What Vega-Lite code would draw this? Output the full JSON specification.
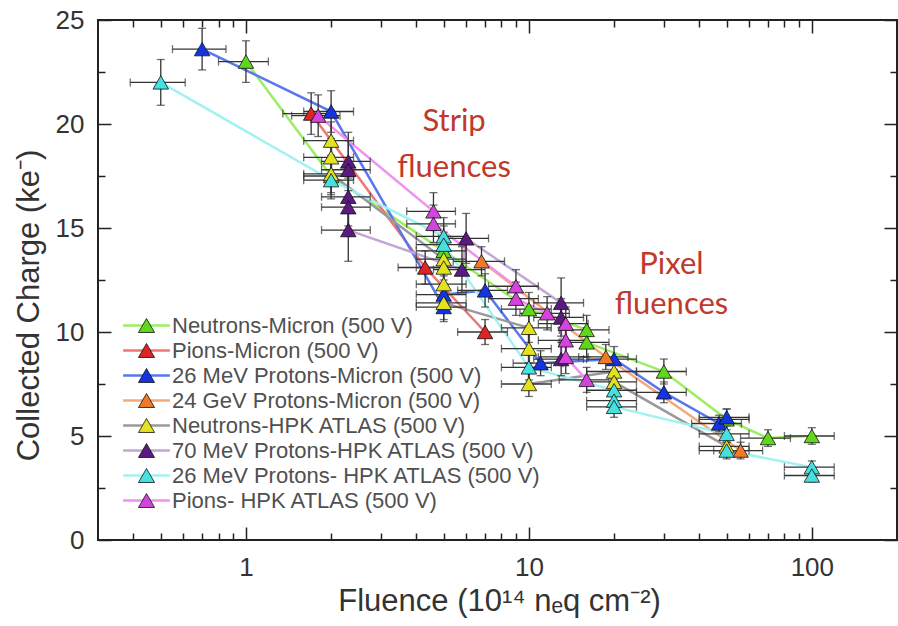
{
  "$schema": "https://vega.github.io/schema/vega-lite/v6.json",
  "width": 799,
  "height": 520,
  "autosize": "none",
  "padding": {"left": 98, "top": 20, "right": 1, "bottom": 86},
  "background": "white",
  "config": {
    "view": {"stroke": "#222", "strokeWidth": 2},
    "font": "Liberation Sans",
    "axis": {"domain": false, "grid": false, "tickColor": "#222", "tickWidth": 1.5}
  },
  "datasets": {
    "pts": [
      {"s": "Neutrons-Micron (500 V)", "x": 1, "y": 23.0, "xl": 0.8, "xh": 1.2, "yl": 22.0, "yh": 24.0},
      {"s": "Neutrons-Micron (500 V)", "x": 2, "y": 17.5, "xl": 1.6, "xh": 2.4, "yl": 16.6, "yh": 18.4},
      {"s": "Neutrons-Micron (500 V)", "x": 5, "y": 13.9, "xl": 4, "xh": 6, "yl": 13.0, "yh": 14.8},
      {"s": "Neutrons-Micron (500 V)", "x": 10, "y": 11.1, "xl": 8, "xh": 12, "yl": 10.3, "yh": 11.9},
      {"s": "Neutrons-Micron (500 V)", "x": 16, "y": 10.1, "xl": 12.8, "xh": 19.2, "yl": 9.4, "yh": 10.8},
      {"s": "Neutrons-Micron (500 V)", "x": 16, "y": 9.5, "xl": 12.8, "xh": 19.2, "yl": 8.8, "yh": 10.2},
      {"s": "Neutrons-Micron (500 V)", "x": 30, "y": 8.1, "xl": 24, "xh": 36, "yl": 7.5, "yh": 8.7},
      {"s": "Neutrons-Micron (500 V)", "x": 50, "y": 5.8, "xl": 40, "xh": 60, "yl": 5.3, "yh": 6.3},
      {"s": "Neutrons-Micron (500 V)", "x": 70, "y": 4.9, "xl": 56, "xh": 84, "yl": 4.5, "yh": 5.3},
      {"s": "Neutrons-Micron (500 V)", "x": 100, "y": 5.0, "xl": 80, "xh": 120, "yl": 4.6, "yh": 5.4},
      {"s": "Pions-Micron (500 V)", "x": 1.7, "y": 20.5, "xl": 1.35, "xh": 2.05, "yl": 19.5, "yh": 21.5},
      {"s": "Pions-Micron (500 V)", "x": 4.3, "y": 13.1, "xl": 3.45, "xh": 5.15, "yl": 12.3, "yh": 13.9},
      {"s": "Pions-Micron (500 V)", "x": 7.0, "y": 10.0, "xl": 5.6, "xh": 8.4, "yl": 9.4, "yh": 10.6},
      {"s": "26 MeV Protons-Micron (500 V)", "x": 0.7, "y": 23.6, "xl": 0.55, "xh": 0.85, "yl": 22.6, "yh": 24.6},
      {"s": "26 MeV Protons-Micron (500 V)", "x": 2.0, "y": 20.6, "xl": 1.6, "xh": 2.4, "yl": 19.6, "yh": 21.6},
      {"s": "26 MeV Protons-Micron (500 V)", "x": 5.0, "y": 11.2, "xl": 4, "xh": 6, "yl": 10.5, "yh": 11.9},
      {"s": "26 MeV Protons-Micron (500 V)", "x": 5.0, "y": 11.8, "xl": 4, "xh": 6, "yl": 11.1, "yh": 12.5},
      {"s": "26 MeV Protons-Micron (500 V)", "x": 7.0, "y": 12.0, "xl": 5.6, "xh": 8.4, "yl": 11.2, "yh": 12.8},
      {"s": "26 MeV Protons-Micron (500 V)", "x": 11, "y": 8.5, "xl": 8.8, "xh": 13.2, "yl": 7.9, "yh": 9.1},
      {"s": "26 MeV Protons-Micron (500 V)", "x": 20, "y": 8.7, "xl": 16, "xh": 24, "yl": 8.1, "yh": 9.3},
      {"s": "26 MeV Protons-Micron (500 V)", "x": 30, "y": 7.1, "xl": 24, "xh": 36, "yl": 6.6, "yh": 7.6},
      {"s": "26 MeV Protons-Micron (500 V)", "x": 47, "y": 5.6, "xl": 37.6, "xh": 56.4, "yl": 5.2, "yh": 6.0},
      {"s": "26 MeV Protons-Micron (500 V)", "x": 50, "y": 5.9, "xl": 40, "xh": 60, "yl": 5.5, "yh": 6.3},
      {"s": "24 GeV Protons-Micron (500 V)", "x": 6.8, "y": 13.4, "xl": 5.4, "xh": 8.2, "yl": 12.7, "yh": 14.1},
      {"s": "24 GeV Protons-Micron (500 V)", "x": 18.7, "y": 8.8, "xl": 15, "xh": 22.4, "yl": 8.2, "yh": 9.4},
      {"s": "24 GeV Protons-Micron (500 V)", "x": 56, "y": 4.3, "xl": 45, "xh": 67, "yl": 3.9, "yh": 4.7},
      {"s": "Neutrons-HPK ATLAS (500 V)", "x": 2, "y": 19.2, "xl": 1.6, "xh": 2.4, "yl": 18.3, "yh": 20.1},
      {"s": "Neutrons-HPK ATLAS (500 V)", "x": 2, "y": 18.4, "xl": 1.6, "xh": 2.4, "yl": 17.5, "yh": 19.3},
      {"s": "Neutrons-HPK ATLAS (500 V)", "x": 2, "y": 17.6, "xl": 1.6, "xh": 2.4, "yl": 16.7, "yh": 18.5},
      {"s": "Neutrons-HPK ATLAS (500 V)", "x": 5, "y": 13.5, "xl": 4, "xh": 6, "yl": 12.7, "yh": 14.3},
      {"s": "Neutrons-HPK ATLAS (500 V)", "x": 5, "y": 13.1, "xl": 4, "xh": 6, "yl": 12.3, "yh": 13.9},
      {"s": "Neutrons-HPK ATLAS (500 V)", "x": 5, "y": 12.3, "xl": 4, "xh": 6, "yl": 11.5, "yh": 13.1},
      {"s": "Neutrons-HPK ATLAS (500 V)", "x": 5, "y": 11.4, "xl": 4, "xh": 6, "yl": 10.6, "yh": 12.2},
      {"s": "Neutrons-HPK ATLAS (500 V)", "x": 10, "y": 10.2, "xl": 8, "xh": 12, "yl": 9.5, "yh": 10.9},
      {"s": "Neutrons-HPK ATLAS (500 V)", "x": 10, "y": 9.2, "xl": 8, "xh": 12, "yl": 8.5, "yh": 9.9},
      {"s": "Neutrons-HPK ATLAS (500 V)", "x": 10, "y": 7.5, "xl": 8, "xh": 12, "yl": 6.9, "yh": 8.1},
      {"s": "Neutrons-HPK ATLAS (500 V)", "x": 20, "y": 8.1, "xl": 16, "xh": 24, "yl": 7.5, "yh": 8.7},
      {"s": "Neutrons-HPK ATLAS (500 V)", "x": 20, "y": 7.6, "xl": 16, "xh": 24, "yl": 7.0, "yh": 8.2},
      {"s": "Neutrons-HPK ATLAS (500 V)", "x": 50, "y": 4.5, "xl": 40, "xh": 60, "yl": 4.1, "yh": 4.9},
      {"s": "70 MeV Protons-HPK ATLAS (500 V)", "x": 2.3, "y": 18.2, "xl": 1.85, "xh": 2.75, "yl": 16.8, "yh": 19.6},
      {"s": "70 MeV Protons-HPK ATLAS (500 V)", "x": 2.3, "y": 17.8, "xl": 1.85, "xh": 2.75, "yl": 16.4, "yh": 19.2},
      {"s": "70 MeV Protons-HPK ATLAS (500 V)", "x": 2.3, "y": 16.5, "xl": 1.85, "xh": 2.75, "yl": 15.1, "yh": 17.9},
      {"s": "70 MeV Protons-HPK ATLAS (500 V)", "x": 2.3, "y": 16.0, "xl": 1.85, "xh": 2.75, "yl": 14.6, "yh": 17.4},
      {"s": "70 MeV Protons-HPK ATLAS (500 V)", "x": 2.3, "y": 14.9, "xl": 1.85, "xh": 2.75, "yl": 13.4, "yh": 16.4},
      {"s": "70 MeV Protons-HPK ATLAS (500 V)", "x": 6.0, "y": 14.5, "xl": 4.8, "xh": 7.2, "yl": 13.3, "yh": 15.7},
      {"s": "70 MeV Protons-HPK ATLAS (500 V)", "x": 5.8, "y": 13.0, "xl": 4.6, "xh": 7.0, "yl": 11.9, "yh": 14.1},
      {"s": "70 MeV Protons-HPK ATLAS (500 V)", "x": 13, "y": 11.4, "xl": 10.4, "xh": 15.6, "yl": 10.2, "yh": 12.6},
      {"s": "70 MeV Protons-HPK ATLAS (500 V)", "x": 13, "y": 10.7, "xl": 10.4, "xh": 15.6, "yl": 9.8, "yh": 11.6},
      {"s": "70 MeV Protons-HPK ATLAS (500 V)", "x": 13, "y": 8.7, "xl": 10.4, "xh": 15.6, "yl": 7.9, "yh": 9.5},
      {"s": "26 MeV Protons- HPK ATLAS (500 V)", "x": 0.5, "y": 22.0, "xl": 0.39, "xh": 0.61, "yl": 20.9, "yh": 23.1},
      {"s": "26 MeV Protons- HPK ATLAS (500 V)", "x": 2.0, "y": 17.3, "xl": 1.6, "xh": 2.4, "yl": 16.4, "yh": 18.2},
      {"s": "26 MeV Protons- HPK ATLAS (500 V)", "x": 5.0, "y": 14.6, "xl": 4, "xh": 6, "yl": 13.7, "yh": 15.5},
      {"s": "26 MeV Protons- HPK ATLAS (500 V)", "x": 5.0, "y": 14.2, "xl": 4, "xh": 6, "yl": 13.3, "yh": 15.1},
      {"s": "26 MeV Protons- HPK ATLAS (500 V)", "x": 10, "y": 8.3, "xl": 8, "xh": 12, "yl": 7.7, "yh": 8.9},
      {"s": "26 MeV Protons- HPK ATLAS (500 V)", "x": 20, "y": 7.2, "xl": 16, "xh": 24, "yl": 6.7, "yh": 7.7},
      {"s": "26 MeV Protons- HPK ATLAS (500 V)", "x": 20, "y": 6.7, "xl": 16, "xh": 24, "yl": 6.2, "yh": 7.2},
      {"s": "26 MeV Protons- HPK ATLAS (500 V)", "x": 20, "y": 6.4, "xl": 16, "xh": 24, "yl": 5.9, "yh": 6.9},
      {"s": "26 MeV Protons- HPK ATLAS (500 V)", "x": 50, "y": 5.1, "xl": 40, "xh": 60, "yl": 4.7, "yh": 5.5},
      {"s": "26 MeV Protons- HPK ATLAS (500 V)", "x": 50, "y": 4.3, "xl": 40, "xh": 60, "yl": 3.9, "yh": 4.7},
      {"s": "26 MeV Protons- HPK ATLAS (500 V)", "x": 100, "y": 3.5, "xl": 80, "xh": 120, "yl": 3.2, "yh": 3.8},
      {"s": "26 MeV Protons- HPK ATLAS (500 V)", "x": 100, "y": 3.1, "xl": 80, "xh": 120, "yl": 2.8, "yh": 3.4},
      {"s": "Pions- HPK ATLAS (500 V)", "x": 1.8, "y": 20.4, "xl": 1.45, "xh": 2.15, "yl": 19.4, "yh": 21.4},
      {"s": "Pions- HPK ATLAS (500 V)", "x": 4.6, "y": 15.8, "xl": 3.7, "xh": 5.5, "yl": 14.9, "yh": 16.7},
      {"s": "Pions- HPK ATLAS (500 V)", "x": 4.6, "y": 15.2, "xl": 3.7, "xh": 5.5, "yl": 14.3, "yh": 16.1},
      {"s": "Pions- HPK ATLAS (500 V)", "x": 9.0, "y": 12.2, "xl": 7.2, "xh": 10.8, "yl": 11.4, "yh": 13.0},
      {"s": "Pions- HPK ATLAS (500 V)", "x": 9.0, "y": 11.6, "xl": 7.2, "xh": 10.8, "yl": 10.8, "yh": 12.4},
      {"s": "Pions- HPK ATLAS (500 V)", "x": 11.6, "y": 10.9, "xl": 9.3, "xh": 13.9, "yl": 10.1, "yh": 11.7},
      {"s": "Pions- HPK ATLAS (500 V)", "x": 13.5, "y": 10.4, "xl": 10.8, "xh": 16.2, "yl": 9.6, "yh": 11.2},
      {"s": "Pions- HPK ATLAS (500 V)", "x": 13.5, "y": 9.6, "xl": 10.8, "xh": 16.2, "yl": 8.8, "yh": 10.4},
      {"s": "Pions- HPK ATLAS (500 V)", "x": 13.5, "y": 8.8, "xl": 10.8, "xh": 16.2, "yl": 8.0, "yh": 9.6},
      {"s": "Pions- HPK ATLAS (500 V)", "x": 16, "y": 7.7, "xl": 12.8, "xh": 19.2, "yl": 7.1, "yh": 8.3}
    ],
    "notes": [
      {"x": 5.44, "y": 20.1, "t": "Strip"},
      {"x": 5.44, "y": 17.9, "t": "fluences"},
      {"x": 31.9, "y": 13.2, "t": "Pixel"},
      {"x": 31.9, "y": 11.3, "t": "fluences"}
    ]
  },
  "data": {"name": "pts"},
  "resolve": {"axis": {"x": "independent", "y": "independent"}},
  "layer": [
    {
      "mark": {"type": "line", "strokeWidth": 2.5},
      "encoding": {
        "x": {"field": "x", "type": "quantitative", "scale": {"type": "log", "domain": [0.3, 200], "nice": false},
          "axis": {"orient": "bottom", "values": [1, 10, 100], "format": "d", "tickSize": -13, "labelFontSize": 26, "labelColor": "#333", "labelPadding": 27, "labelFlush": false, "labelOverlap": false,
            "title": "Fluence (10¹⁴ nₑq cm⁻²)", "titleFontSize": 31, "titleFontWeight": "normal", "titleColor": "#333", "titleX": 401, "titleY": 70, "titleBaseline": "alphabetic", "titleAlign": "center"}},
        "y": {"field": "y", "type": "quantitative", "scale": {"domain": [0, 25], "nice": false},
          "axis": {"orient": "left", "values": [0, 5, 10, 15, 20, 25], "tickSize": -13, "labelFontSize": 26, "labelColor": "#333", "labelPadding": 27, "labelFlush": false, "labelOverlap": false,
            "title": "Collected Charge (ke⁻)", "titleFontSize": 31, "titleFontWeight": "normal", "titleColor": "#333", "titleX": -60, "titleY": 285, "titleAngle": -90, "titleBaseline": "alphabetic", "titleAlign": "center"}},
        "stroke": {"field": "s", "type": "nominal",
          "sort": ["Neutrons-Micron (500 V)", "Pions-Micron (500 V)", "26 MeV Protons-Micron (500 V)", "24 GeV Protons-Micron (500 V)", "Neutrons-HPK ATLAS (500 V)", "70 MeV Protons-HPK ATLAS (500 V)", "26 MeV Protons- HPK ATLAS (500 V)", "Pions- HPK ATLAS (500 V)"],
          "scale": {"range": ["#9cee62", "#f07575", "#5a78ee", "#f7a878", "#9a9a9a", "#c2a6d4", "#a2f2f2", "#f092f0"]},
          "legend": {"orient": "none", "legendX": 37.5, "legendY": 294.5, "title": null, "symbolType": "M-2.9,0H2.9", "symbolSize": 260, "symbolStrokeWidth": 2.5, "labelFontSize": 22, "labelOpacity": 0, "labelOffset": 14.5, "labelLimit": 500, "rowPadding": 3, "padding": 0, "zindex": 1}}
      }
    },
    {
      "mark": {"type": "errorbar", "color": "#333", "thickness": 1.3, "ticks": {"size": 8, "color": "#333"}},
      "encoding": {
        "x": {"field": "x", "type": "quantitative", "axis": null},
        "y": {"field": "yl", "type": "quantitative", "axis": null},
        "y2": {"field": "yh"}
      }
    },
    {
      "mark": {"type": "errorbar", "color": "#333", "thickness": 1.3, "ticks": {"size": 8, "color": "#333"}},
      "encoding": {
        "y": {"field": "y", "type": "quantitative", "axis": null},
        "x": {"field": "xl", "type": "quantitative", "axis": null},
        "x2": {"field": "xh"}
      }
    },
    {
      "mark": {"type": "point", "shape": "triangle-up", "filled": true, "size": 240, "stroke": "#111", "strokeWidth": 0.8, "opacity": 1},
      "encoding": {
        "x": {"field": "x", "type": "quantitative", "axis": null},
        "y": {"field": "y", "type": "quantitative", "axis": null},
        "fill": {"field": "s", "type": "nominal",
          "scale": {"domain": ["Neutrons-Micron (500 V)", "Pions-Micron (500 V)", "26 MeV Protons-Micron (500 V)", "24 GeV Protons-Micron (500 V)", "Neutrons-HPK ATLAS (500 V)", "70 MeV Protons-HPK ATLAS (500 V)", "26 MeV Protons- HPK ATLAS (500 V)", "Pions- HPK ATLAS (500 V)"],
            "range": ["#5fd81c", "#e02424", "#1434e0", "#f07a26", "#e2e222", "#5a1a82", "#46e0e0", "#d444dc"]},
          "legend": {"orient": "none", "legendX": 37.5, "legendY": 294.5, "title": null, "symbolType": "triangle-up", "symbolSize": 260, "symbolStrokeColor": "#111", "symbolStrokeWidth": 0.8, "labelFontSize": 22, "labelColor": "#505050", "labelOffset": 14.5, "labelLimit": 500, "rowPadding": 3, "padding": 0, "zindex": 2}}
      }
    },
    {
      "data": {"name": "notes"},
      "mark": {"type": "text", "font": "Lato", "fontSize": 31, "color": "#c0392b", "align": "center", "baseline": "middle"},
      "encoding": {
        "x": {"field": "x", "type": "quantitative", "axis": null},
        "y": {"field": "y", "type": "quantitative", "axis": null},
        "text": {"field": "t"}
      }
    },
    {
      "mark": {"type": "point", "opacity": 0},
      "encoding": {
        "x": {"field": "x", "type": "quantitative", "axis": {"orient": "bottom", "values": [0.4, 0.5, 0.6, 0.7, 0.8, 0.9, 2, 3, 4, 5, 6, 7, 8, 9, 20, 30, 40, 50, 60, 70, 80, 90], "tickSize": -7, "labels": false, "title": null}},
        "y": {"field": "y", "type": "quantitative", "axis": {"orient": "left", "values": [2.5, 7.5, 12.5, 17.5, 22.5], "tickSize": -7, "labels": false, "title": null}}
      }
    },
    {
      "mark": {"type": "point", "opacity": 0},
      "encoding": {
        "x": {"field": "x", "type": "quantitative", "axis": {"orient": "top", "values": [1, 10, 100], "tickSize": -13, "labels": false, "title": null}},
        "y": {"field": "y", "type": "quantitative", "axis": {"orient": "right", "values": [0, 5, 10, 15, 20, 25], "tickSize": -13, "labels": false, "title": null}}
      }
    },
    {
      "mark": {"type": "point", "opacity": 0},
      "encoding": {
        "x": {"field": "x", "type": "quantitative", "axis": {"orient": "top", "values": [0.4, 0.5, 0.6, 0.7, 0.8, 0.9, 2, 3, 4, 5, 6, 7, 8, 9, 20, 30, 40, 50, 60, 70, 80, 90], "tickSize": -7, "labels": false, "title": null}},
        "y": {"field": "y", "type": "quantitative", "axis": {"orient": "right", "values": [2.5, 7.5, 12.5, 17.5, 22.5], "tickSize": -7, "labels": false, "title": null}}
      }
    }
  ]
}
